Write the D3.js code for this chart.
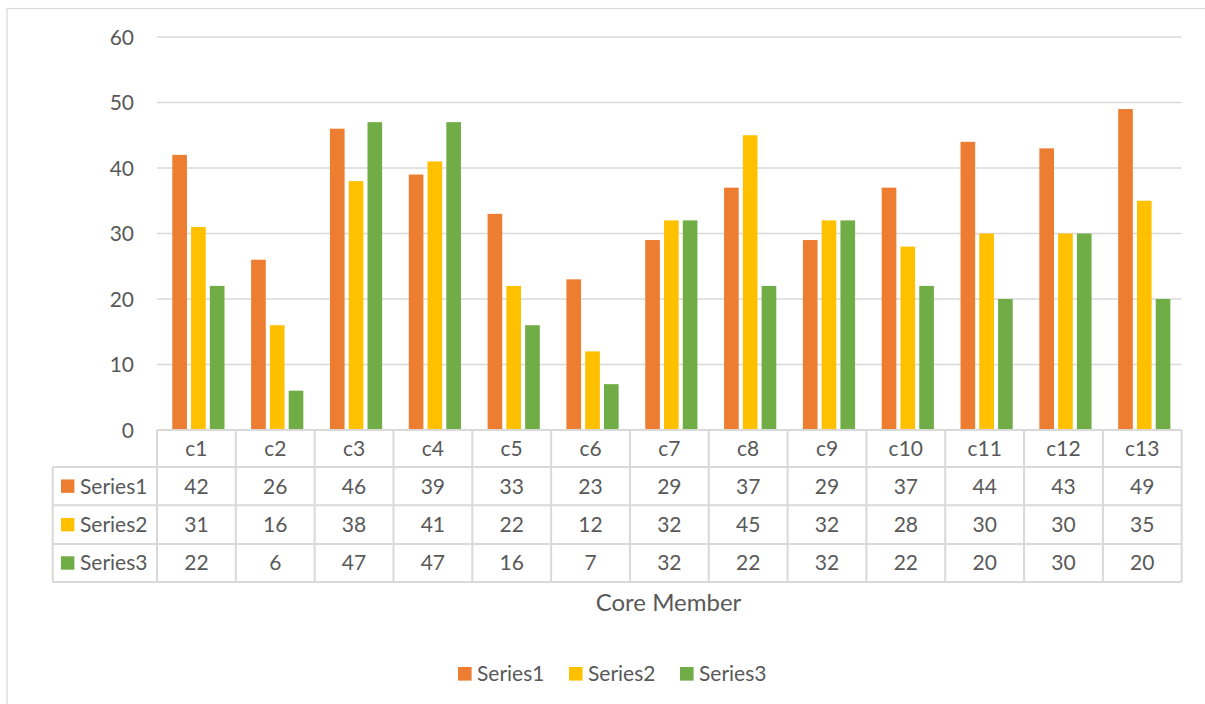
<!DOCTYPE html>
<html><head><meta charset="utf-8">
<script src="https://cdn.jsdelivr.net/npm/d3@7"></script>
<style>body{margin:0;background:#fff}svg{display:block}text{font-family:Lato,"Open Sans",sans-serif;fill:#595959}</style>
</head><body>
<svg id="c" width="1205" height="704"></svg>
<script>
const categories = ["c1","c2","c3","c4","c5","c6","c7","c8","c9","c10","c11","c12","c13"];
const seriesNames = ["Series1","Series2","Series3"];
const series1 = [42,26,46,39,33,23,29,37,29,37,44,43,49];
const series2 = [31,16,38,41,22,12,32,45,32,28,30,30,35];
const series3 = [22,6,47,47,16,7,32,22,32,22,20,30,20];
const yTicks = [0,10,20,30,40,50,60];
const colors = ["#ED7D31","#FFC000","#70AD47"];
const seriesValues = [series1, series2, series3];

const svg = d3.select("#c");
const grid = "#d9d9d9";
// outer border (only top/left visible)
svg.append("rect").attr("x",7).attr("y",8.5).attr("width",1210).attr("height",710)
  .attr("fill","none").attr("stroke",grid).attr("stroke-width",1.2);

const x0 = 157, x1 = 1181.7;
const x = d3.scaleBand().domain(categories).range([x0,x1]);
const y = d3.scaleLinear().domain([0,60]).range([430,37]);
const inner = d3.scaleBand().domain(seriesNames).range([15.3, 15.3+17.4*3]).paddingInner(0.22).paddingOuter(0);

// gridlines
svg.append("g").selectAll("line").data(yTicks.filter(d=>d>0)).join("line")
  .attr("x1",x0).attr("x2",x1).attr("y1",d=>y(d)).attr("y2",d=>y(d))
  .attr("stroke",grid).attr("stroke-width",1.3);

// y labels
const yAxis = d3.axisLeft(y).tickValues(yTicks).tickSize(0).tickPadding(0);
const ya = svg.append("g").attr("transform","translate(134,0)").call(yAxis);
ya.select(".domain").remove();
ya.selectAll("text").attr("font-size",21).attr("fill","#595959").style("font-family","Lato").attr("dy","0.35em");

// bars
seriesNames.forEach((s,i)=>{
  svg.append("g").selectAll("rect").data(categories).join("rect")
    .attr("x",c=>x(c)+inner(s))
    .attr("width",inner.bandwidth())
    .attr("y",(c,j)=>y(seriesValues[i][j]))
    .attr("height",(c,j)=>y(0)-y(seriesValues[i][j]))
    .attr("fill",colors[i]);
});

// data table
const rowY = [430, 467, 505.3, 544, 582];
const tL = 52.7;
const tg = svg.append("g").attr("stroke",grid).attr("stroke-width",2).attr("fill","none");
// horizontal lines
tg.append("line").attr("x1",x0).attr("x2",x1).attr("y1",rowY[0]).attr("y2",rowY[0]);
for(let k=1;k<rowY.length;k++) tg.append("line").attr("x1",tL).attr("x2",x1).attr("y1",rowY[k]).attr("y2",rowY[k]);
// vertical lines
tg.append("line").attr("x1",tL).attr("x2",tL).attr("y1",rowY[1]).attr("y2",rowY[4]);
categories.forEach(c=>tg.append("line").attr("x1",x(c)).attr("x2",x(c)).attr("y1",rowY[0]).attr("y2",rowY[4]));
tg.append("line").attr("x1",x1).attr("x2",x1).attr("y1",rowY[0]).attr("y2",rowY[4]);

const mid = k => (rowY[k]+rowY[k+1])/2;
svg.append("g").selectAll("text").data(categories).join("text")
  .attr("x",c=>x(c)+x.bandwidth()/2).attr("y",mid(0)).attr("dy","0.35em")
  .attr("text-anchor","middle").attr("font-size",21).text(c=>c);
seriesNames.forEach((s,i)=>{
  const yy = mid(i+1);
  svg.append("rect").attr("x",61).attr("y",yy-6.7).attr("width",13.4).attr("height",13.4).attr("fill",colors[i]);
  svg.append("text").attr("x",80).attr("y",yy).attr("dy","0.35em").attr("font-size",21).text(s);
  svg.append("g").selectAll("text").data(categories).join("text")
    .attr("x",c=>x(c)+x.bandwidth()/2).attr("y",yy).attr("dy","0.35em")
    .attr("text-anchor","middle").attr("font-size",21).text((c,j)=>seriesValues[i][j]);
});

// axis title
svg.append("text").attr("x",668.5).attr("y",603).attr("dy","0.35em").attr("text-anchor","middle")
  .attr("font-size",24).text("Core Member");

// legend
const legX = [458, 569, 680];
seriesNames.forEach((s,i)=>{
  svg.append("rect").attr("x",legX[i]).attr("y",667).attr("width",13.6).attr("height",13.6).attr("fill",colors[i]);
  svg.append("text").attr("x",legX[i]+19).attr("y",674).attr("dy","0.35em").attr("font-size",21).text(s);
});
</script>
</body></html>
